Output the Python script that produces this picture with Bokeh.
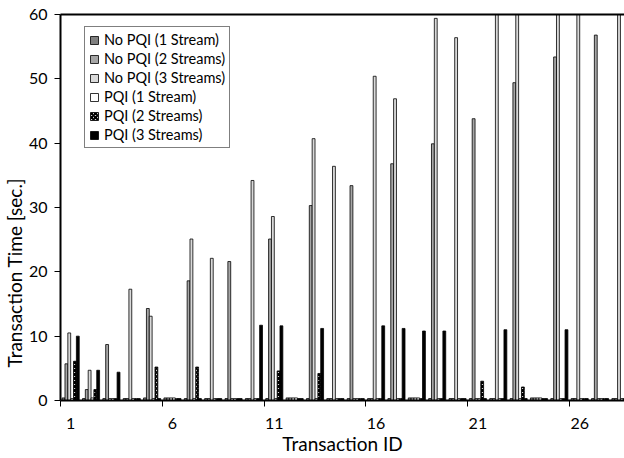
from bokeh.plotting import figure
from bokeh.models import (Range1d, FixedTicker, Legend, LegendItem, ColumnDataSource,
                          LinearAxis, Title)
from bokeh.transform import dodge
from bokeh.embed import file_html
from bokeh.resources import INLINE

ids = list(range(1, 29))
nopqi_1 = [0.4, 0.3, 0.3, 0.3, 0.4, 0.4, 0.3, 0.3, 0.3, 0.3, 0.3, 0.4, 0.3, 0.3,
           0.3, 0.3, 0.3, 0.4, 0.3, 0.3, 0.3, 0.3, 0.3, 0.4, 0.3, 0.3, 0.3, 0.3]
nopqi_2 = [5.7, 1.7, 8.7, 0.3, 14.3, 0.4, 18.6, 0.3, 21.6, 0.3, 25.1, 0.4, 30.3, 0.3,
           33.4, 0.3, 36.8, 0.4, 39.9, 0.3, 43.8, 0.3, 49.4, 0.4, 53.4, 0.3, 56.8, 0.3]
nopqi_3 = [10.5, 4.7, 0.3, 17.3, 13.1, 0.4, 25.1, 22.1, 0.3, 34.2, 28.6, 0.4, 40.7, 36.4,
           0.3, 50.4, 46.9, 0.4, 59.4, 56.4, 0.3, 66.0, 66.0, 0.4, 66.0, 66.0, 0.3, 66.0]
pqi_1 = [0.3, 0.4, 0.3, 0.3, 0.3, 0.4, 0.3, 0.3, 0.3, 0.3, 0.3, 0.4, 0.3, 0.3,
         0.3, 0.3, 0.3, 0.4, 0.3, 0.3, 0.3, 0.3, 0.3, 0.4, 0.3, 0.3, 0.3, 0.3]
pqi_2 = [6.1, 1.7, 0.3, 0.3, 5.2, 0.3, 5.2, 0.3, 0.3, 0.3, 4.6, 0.3, 4.2, 0.3,
         0.3, 0.3, 0.3, 0.3, 0.3, 0.3, 3.0, 0.3, 2.1, 0.3, 0.3, 0.3, 0.3, 0.3]
pqi_3 = [10.0, 4.7, 4.4, 0.3, 0.3, 0.3, 0.3, 0.3, 0.3, 11.7, 11.6, 0.3, 11.2, 0.3,
         0.3, 11.6, 11.2, 10.8, 10.8, 0.3, 0.3, 11.0, 0.3, 0.3, 11.0, 0.3, 0.3, 10.8]

series_labels = ["No PQI (1 Stream)", "No PQI (2 Streams)", "No PQI (3 Streams)",
                 "PQI (1 Stream)", "PQI (2 Streams)", "PQI (3 Streams)"]
tick_ids = [1, 6, 11, 16, 21, 26]
y_ticks = [0, 10, 20, 30, 40, 50, 60]

source = ColumnDataSource(dict(id=ids, s1=nopqi_1, s2=nopqi_2, s3=nopqi_3,
                               s4=pqi_1, s5=pqi_2, s6=pqi_3))

FONT = "Lato"
p = figure(width=624, height=458, output_backend="svg", toolbar_location=None,
           x_range=Range1d(0.5, 28.2), y_range=Range1d(0, 60),
           min_border_left=60, min_border_right=0, min_border_top=14,
           min_border_bottom=58, x_axis_type=None)
p.outline_line_color = None
p.xgrid.visible = False
p.ygrid.visible = False
p.background_fill_color = "white"

bw = 0.14
fills = ["#808080", "#a6a6a6", "#d9d9d9", "white", "white", "black"]
items = []
for k in range(6):
    off = (k - 2.5) * bw
    kw = dict(x=dodge("id", off, range=p.x_range), top="s%d" % (k + 1), width=bw,
              source=source, fill_color=fills[k], line_color="black", line_width=0.8)
    if k == 4:
        kw.update(hatch_pattern="diagonal_cross", hatch_color="black",
                  hatch_scale=4, hatch_weight=2)
    r = p.vbar(**kw)
    items.append(LegendItem(label=series_labels[k], renderers=[r]))

# x axis
xax = LinearAxis(ticker=FixedTicker(ticks=tick_ids,
                                    minor_ticks=[t - 0.5 for t in tick_ids]))
xax.axis_line_width = 2
xax.axis_line_color = "black"
xax.major_tick_line_color = None
xax.major_tick_out = 0
xax.major_tick_in = 0
xax.minor_tick_line_color = "black"
xax.minor_tick_out = 6
xax.minor_tick_in = 0
xax.major_label_standoff = 11
xax.major_label_text_font = FONT
xax.major_label_text_font_size = "16px"
xax.major_label_text_color = "black"
xax.axis_label = "Transaction ID"
xax.axis_label_text_font = FONT
xax.axis_label_text_font_size = "19px"
xax.axis_label_text_font_style = "normal"
xax.axis_label_text_color = "black"
xax.axis_label_standoff = 0
p.add_layout(xax, "below")

# y axis
yax = p.yaxis[0]
yax.ticker = FixedTicker(ticks=y_ticks)
yax.axis_line_width = 2
yax.axis_line_color = "black"
yax.major_tick_line_color = "black"
yax.major_tick_out = 6
yax.major_tick_in = 0
yax.minor_tick_line_color = None
yax.major_label_standoff = 7
yax.major_label_text_font = FONT
yax.major_label_text_font_size = "16px"
yax.major_label_text_color = "black"

ytitle = Title(text="Transaction Time [sec.]", align="left", offset=33,
               text_font=FONT, text_font_size="19px", text_font_style="normal",
               text_color="black", standoff=0)
p.add_layout(ytitle, "left")

# top border
top = LinearAxis(ticker=FixedTicker(ticks=[]))
top.axis_line_width = 2
top.axis_line_color = "black"
top.major_label_text_font_size = "0px"
top.major_label_standoff = 0
top.major_tick_out = 0
p.add_layout(top, "above")

legend = Legend(items=items, location=(24, 252))
legend.border_line_color = "black"
legend.border_line_width = 1
legend.background_fill_color = "white"
legend.label_text_font = FONT
legend.label_text_font_size = "14.5px"
legend.label_text_color = "black"
legend.label_height = 17
legend.glyph_height = 10
legend.glyph_width = 10
legend.spacing = 2
legend.padding = 4
legend.label_standoff = 5
p.add_layout(legend, "center")

open("out.html", "w").write(file_html(p, INLINE))
